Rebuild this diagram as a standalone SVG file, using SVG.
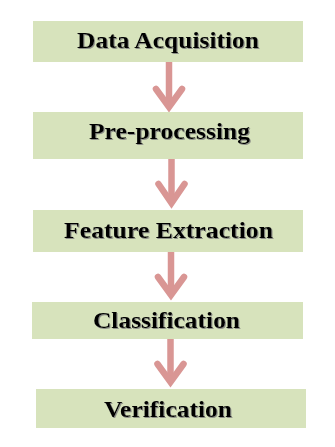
<svg xmlns="http://www.w3.org/2000/svg" width="335" height="447" viewBox="0 0 335 447">
<defs>
<filter id="sh" x="-5%" y="-20%" width="110%" height="140%">
<feDropShadow dx="1" dy="1" stdDeviation="0.4" flood-color="#7a7a7a" flood-opacity="0.8"/>
</filter>
</defs>
<style>
.box{fill:#d7e3bc;}
.lbl{font-family:"Liberation Serif","Times New Roman",serif;font-weight:bold;font-size:23px;fill:#000;text-anchor:middle;filter:url(#sh);}
.shaft{stroke:#d99694;stroke-width:6.5;fill:none;}
.head{stroke:#d99694;stroke-width:6.5;fill:none;stroke-linecap:round;stroke-linejoin:miter;}
</style>
<rect width="335" height="447" fill="#fff"/>
<g id="connectors">
<line class="shaft" x1="169" y1="62" x2="169" y2="106"/>
<polyline class="head" points="156,89 169,107 182,89"/>
<line class="shaft" x1="171.5" y1="159" x2="171.5" y2="203"/>
<polyline class="head" points="158.5,184 171.5,203 184.5,184"/>
<line class="shaft" x1="171" y1="252" x2="171" y2="295"/>
<polyline class="head" points="158,277 171,295 184,277"/>
<line class="shaft" x1="170.5" y1="339" x2="170.5" y2="382"/>
<polyline class="head" points="157.5,364 170.5,382 183.5,364"/>
</g>
<g id="n1">
<rect class="box" x="33" y="21" width="270" height="41"/>
<text class="lbl" x="168" y="48" textLength="182" lengthAdjust="spacingAndGlyphs">Data Acquisition</text>
</g>
<g id="n2">
<rect class="box" x="33" y="112" width="270" height="47"/>
<text class="lbl" x="169.5" y="139" textLength="161" lengthAdjust="spacingAndGlyphs">Pre-processing</text>
</g>
<g id="n3">
<rect class="box" x="33" y="210" width="270" height="42"/>
<text class="lbl" x="168.5" y="238" textLength="209" lengthAdjust="spacingAndGlyphs">Feature Extraction</text>
</g>
<g id="n4">
<rect class="box" x="32" y="302" width="271" height="37"/>
<text class="lbl" x="166.5" y="328" textLength="147" lengthAdjust="spacingAndGlyphs">Classification</text>
</g>
<g id="n5">
<rect class="box" x="36" y="389" width="270" height="39"/>
<text class="lbl" x="168" y="417" textLength="128" lengthAdjust="spacingAndGlyphs">Verification</text>
</g>
</svg>
